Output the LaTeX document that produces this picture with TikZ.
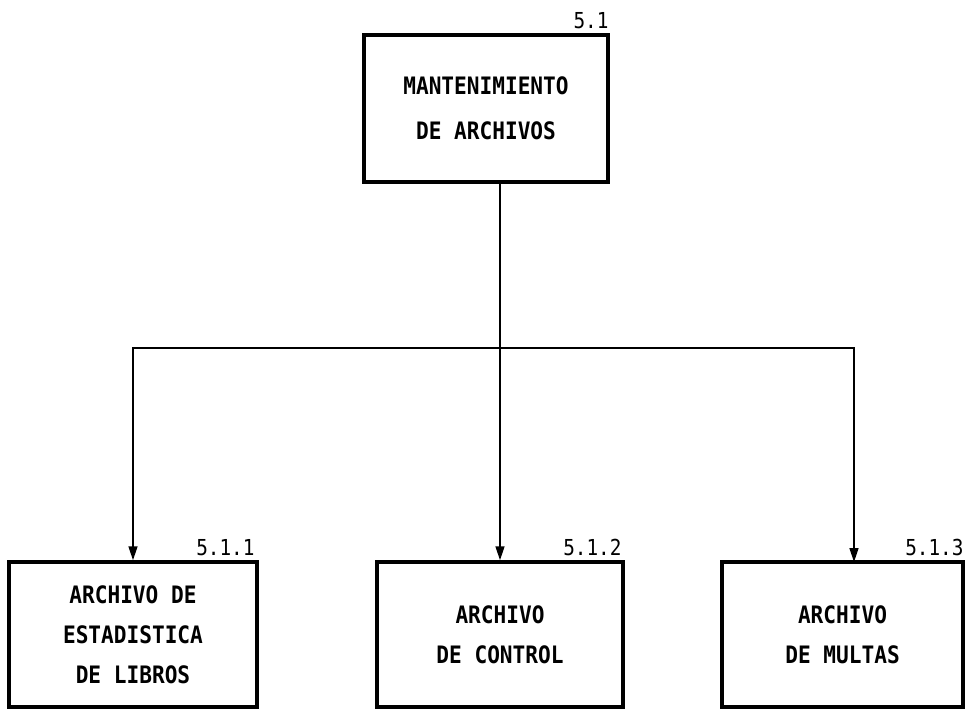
\documentclass[tikz,border=0pt]{standalone}
\usepackage{fontspec}
\newfontfamily\plotfont[FakeStretch=0.88]{DejaVu Sans Mono}
\usepackage{tikz}
\usetikzlibrary{arrows.meta}
\tikzstyle{process} = [rectangle, draw, line width=3.5bp, inner sep=0pt,
  align=center, font=\plotfont\bfseries\fontsize{24bp}{40bp}\selectfont]
\tikzstyle{tag} = [anchor=base east, inner sep=0pt,
  font=\plotfont\fontsize{22bp}{22bp}\selectfont]
\tikzstyle{flow} = [line width=1.6bp, -{Triangle[width=9bp,length=14bp]}]

\begin{document}
\begin{tikzpicture}[x=1bp, y=-1bp]
  \useasboundingbox (0,0) rectangle (970,709);

  \node[process, minimum width=244bp, minimum height=147bp,
    font=\plotfont\bfseries\fontsize{24bp}{45bp}\selectfont]
    (mant) at (486,108.5) {MANTENIMIENTO\\DE ARCHIVOS};
  \node[process, minimum width=248bp, minimum height=145bp]
    (est) at (133,634.5) {ARCHIVO DE\\ESTADISTICA\\DE LIBROS};
  \node[process, minimum width=246bp, minimum height=145bp]
    (ctrl) at (500,634.5) {ARCHIVO\\DE CONTROL};
  \node[process, minimum width=241bp, minimum height=145bp]
    (mul) at (842.5,634.5) {ARCHIVO\\DE MULTAS};

  \node[tag] (tmant) at ([shift={(-1,-5)}]mant.north east) {5.1};
  \node[tag] (test) at ([shift={(-4,-5)}]est.north east) {5.1.1};
  \node[tag] (tctrl) at ([shift={(-3,-5)}]ctrl.north east) {5.1.2};
  \node[tag] (tmul) at ([shift={(-1,-5)}]mul.north east) {5.1.3};

  \coordinate (bus) at (500,348);
  \coordinate (mulin) at (854,562);

  \draw[flow] (mant.south -| ctrl.north) -- (ctrl.north);
  \draw[flow] (bus) -| (est.north);
  \draw[flow] (bus) -| (mulin);
\end{tikzpicture}
\end{document}
